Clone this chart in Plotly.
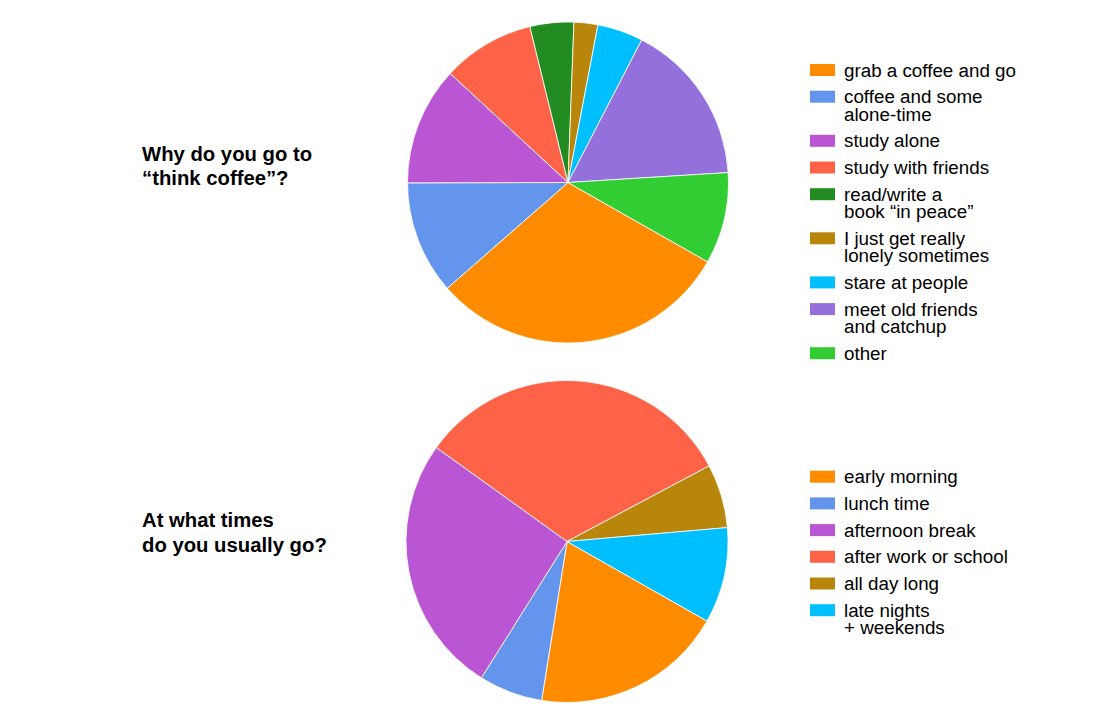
import plotly.graph_objects as go

# ---------------- data ----------------
why_labels = ["grab a coffee and go", "coffee and some\nalone-time", "study alone",
              "study with friends", "read/write a\nbook \u201cin peace\u201d",
              "I just get really\nlonely sometimes", "stare at people",
              "meet old friends\nand catchup", "other"]
why_values = [30.3, 11.4, 11.9, 9.3, 4.4, 2.4, 4.6, 16.4, 9.2]
why_colors = ["#FF8C00", "#6495ED", "#BA55D3", "#FF6347", "#228B22",
              "#B8860B", "#00BFFF", "#9370DB", "#32CD32"]
why_title = ["Why do you go to", "\u201cthink coffee\u201d?"]

when_labels = ["early morning", "lunch time", "afternoon break",
               "after work or school", "all day long", "late nights\n+ weekends"]
when_values = [19.3, 6.4, 26.0, 32.3, 6.4, 9.6]
when_colors = ["#FF8C00", "#6495ED", "#BA55D3", "#FF6347", "#B8860B", "#00BFFF"]
when_title = ["At what times", "do you usually go?"]

# ---------------- layout constants ----------------
W, H = 1105, 718
OFF = 8  # page body margin
FONT = "Liberation Sans, Arial, Helvetica, sans-serif"


def px_x(x):
    return (x - OFF) / W


def px_y(y):
    return 1 - (y - OFF) / H


fig = go.Figure()

pies = [
    dict(labels=why_labels, values=why_values, colors=why_colors,
         cx=568, cy=182.5, r=160.5, title=why_title, title_y=153.5,
         leg_y=70),
    dict(labels=when_labels, values=when_values, colors=when_colors,
         cx=567, cy=541.5, r=161, title=when_title, title_y=519.5,
         leg_y=476.7),
]

shapes = []
annotations = []
for p in pies:
    fig.add_trace(go.Pie(
        labels=[l.replace("\n", " ") for l in p["labels"]],
        values=p["values"],
        marker=dict(colors=p["colors"], line=dict(color="rgba(255,255,255,0.8)", width=1)),
        sort=False,
        direction="clockwise",
        rotation=119.6,
        textinfo="none",
        showlegend=False,
        domain=dict(x=[px_x(p["cx"] - p["r"]), px_x(p["cx"] + p["r"])],
                    y=[px_y(p["cy"] + p["r"]), px_y(p["cy"] - p["r"])]),
    ))

    # titles (one annotation per line)
    for i, line in enumerate(p["title"]):
        annotations.append(dict(
            x=px_x(140), y=px_y(p["title_y"] + i * 25), xref="paper", yref="paper",
            xanchor="left", yanchor="middle", showarrow=False, text="<b>" + line + "</b>",
            font=dict(family=FONT, size=20.3, color="#000")))

    # legend drawn as swatches + text
    y = p["leg_y"]
    for lab, col in zip(p["labels"], p["colors"]):
        shapes.append(dict(type="rect", xref="paper", yref="paper",
                           x0=px_x(810), x1=px_x(835), y0=px_y(y + 6), y1=px_y(y - 6),
                           fillcolor=col, line=dict(width=0)))
        lines = lab.split("\n")
        for j, ln in enumerate(lines):
            annotations.append(dict(
                x=px_x(842), y=px_y(y + j * 17.4), xref="paper", yref="paper",
                xanchor="left", yanchor="middle", showarrow=False, text=ln,
                font=dict(family=FONT, size=18.8, color="#000")))
        y += 26.7 + 17.4 * (len(lines) - 1)

fig.update_layout(
    width=W, height=H,
    margin=dict(l=0, r=0, t=0, b=0),
    paper_bgcolor="white", plot_bgcolor="white",
    shapes=shapes, annotations=annotations,
)

fig.write_html("out.html")
